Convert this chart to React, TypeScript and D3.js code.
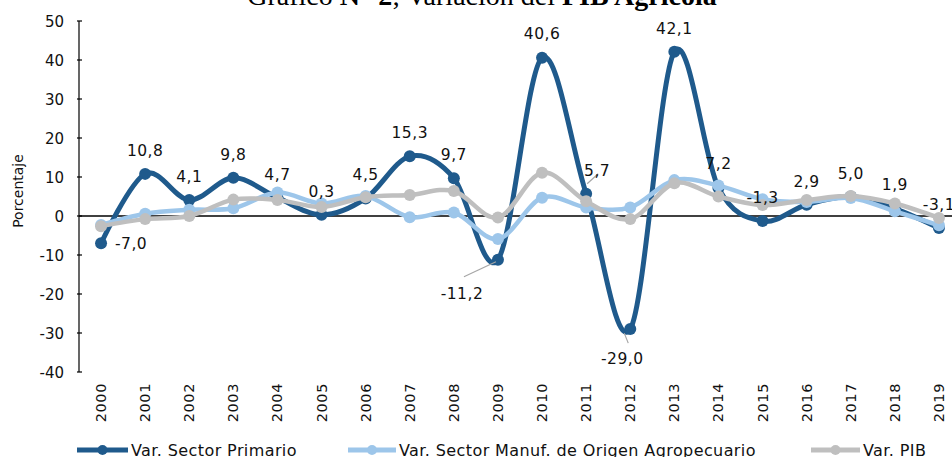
import React from "react";
import * as d3 from "d3";

const years = ["2000","2001","2002","2003","2004","2005","2006","2007","2008","2009","2010","2011","2012","2013","2014","2015","2016","2017","2018","2019"];
const primario = [-7.0, 10.8, 4.1, 9.8, 4.7, 0.3, 4.5, 15.3, 9.7, -11.2, 40.6, 5.7, -29.0, 42.1, 7.2, -1.3, 2.9, 5.0, 1.9, -3.1];
const manuf = [-2.3, 0.6, 1.6, 2.0, 6.0, 3.2, 5.1, -0.3, 0.9, -5.9, 4.7, 2.2, 2.2, 9.2, 7.8, 4.3, 3.6, 4.6, 1.2, -2.4];
const pib = [-2.6, -0.8, 0.0, 4.2, 4.1, 2.3, 4.8, 5.4, 6.4, -0.4, 11.1, 3.8, -0.8, 8.4, 5.0, 2.8, 4.1, 5.1, 3.2, -0.5];
const yTicks = [50, 40, 30, 20, 10, 0, -10, -20, -30, -40];
const seriesNames = ["Var. Sector Primario", "Var. Sector Manuf. de Origen Agropecuario", "Var. PIB"];
const seriesColors = ["#1F5A8C", "#9DC6EA", "#BFBFBF"];

// label offsets (dx, dy) for primary series labels relative to point
const labelOffsets: [number, number][] = [
  [30, 6], [0, -18], [0, -18], [0, -18], [0, -18], [0, -18], [0, -18], [0, -18], [0, -18],
  [-36, 39], [0, -19], [11, -18], [-8, 35], [0, -18], [0, -19], [0, -18], [0, -18], [0, -18], [0, -19], [0, -18],
];
const leaders: { [k: number]: [number, number, number, number] } = {
  9: [-34, 17, -2, 2],
  11: [1, -10, 12, -20],
  12: [-2, 14, -6, 4],
};

const FONT = "'DejaVu Sans', Verdana, sans-serif";

export default function App() {
  const W = 952, H = 457;
  const x = d3.scaleBand<string>().domain(years).range([79, 79 + 20 * 44.1]);
  const cx = (i: number) => (x(years[i]) as number) + x.bandwidth() / 2;
  const y = d3.scaleLinear().domain([-40, 50]).range([372, 21]);
  const line = d3.line<number>().x((_, i) => cx(i)).y((d) => y(d)).curve(d3.curveCardinal.tension(0));
  const series = [primario, manuf, pib];
  const widths = [5, 4.5, 4.5];
  const radii = [6, 6, 6];
  const legendPos = [
    [77, 128, 131],
    [348, 396, 399],
    [811, 860, 863],
  ];

  return (
    <div style={{ position: "fixed", left: 0, top: 0 }}>
      <svg width={W} height={H} style={{ display: "block", background: "#fff" }}>
        <text x={482} y={5} textAnchor="middle" fontFamily="'Liberation Serif', 'Times New Roman', serif" fontSize={28} fill="#000">
          <tspan>Gráfico </tspan><tspan fontWeight="bold">N° 2</tspan><tspan>; Variación del </tspan><tspan fontWeight="bold">PIB Agrícola</tspan>
        </text>
        {/* y axis */}
        <line x1={79} x2={79} y1={y(50)} y2={y(-40)} stroke="#000" strokeWidth={1.2} />
        {yTicks.map((t) => (
          <g key={t}>
            <line x1={77} x2={82} y1={y(t)} y2={y(t)} stroke="#000" strokeWidth={1.2} />
            <text x={64} y={y(t) + 5.5} textAnchor="end" fontFamily={FONT} fontSize={15} fill="#111">{t}</text>
          </g>
        ))}
        <text transform={`translate(23,191) rotate(-90)`} textAnchor="middle" fontFamily={FONT} fontSize={14} fill="#111">Porcentaje</text>
        {/* zero line */}
        <line x1={79} x2={W} y1={y(0)} y2={y(0)} stroke="#000" strokeWidth={1.5} />
        {/* x labels */}
        {years.map((yr, i) => (
          <text key={yr} transform={`translate(${cx(i) + 5},383) rotate(-90)`} textAnchor="end" fontFamily={FONT} fontSize={14.5} letterSpacing={0.6} fill="#111">{yr}</text>
        ))}
        {/* series */}
        {series.map((s, k) => (
          <g key={k}>
            <path d={line(s) as string} fill="none" stroke={seriesColors[k]} strokeWidth={widths[k]} strokeLinejoin="round" />
            {s.map((v, i) => (
              <circle key={i} cx={cx(i)} cy={y(v)} r={radii[k]} fill={seriesColors[k]} />
            ))}
          </g>
        ))}
        {/* leaders */}
        {Object.entries(leaders).map(([k, l]) => {
          const i = +k;
          return <line key={k} x1={cx(i) + l[0]} y1={y(primario[i]) + l[1]} x2={cx(i) + l[2]} y2={y(primario[i]) + l[3]} stroke="#A6A6A6" strokeWidth={1.2} />;
        })}
        {/* labels */}
        {primario.map((v, i) => (
          <text key={i} x={cx(i) + labelOffsets[i][0]} y={y(v) + labelOffsets[i][1]} textAnchor="middle" fontFamily={FONT} fontSize={15.5} letterSpacing={0.5} fill="#111">
            {v.toFixed(1).replace(".", ",")}
          </text>
        ))}
        {/* legend */}
        {legendPos.map(([a, b, tx], k) => (
          <g key={k}>
            <line x1={a} x2={b} y1={450} y2={450} stroke={seriesColors[k]} strokeWidth={5} />
            <circle cx={(a + b) / 2} cy={450} r={5} fill={seriesColors[k]} />
            <text x={tx} y={456} fontFamily={FONT} fontSize={16} letterSpacing={0.4} fill="#111">{seriesNames[k]}</text>
          </g>
        ))}
      </svg>
    </div>
  );
}
